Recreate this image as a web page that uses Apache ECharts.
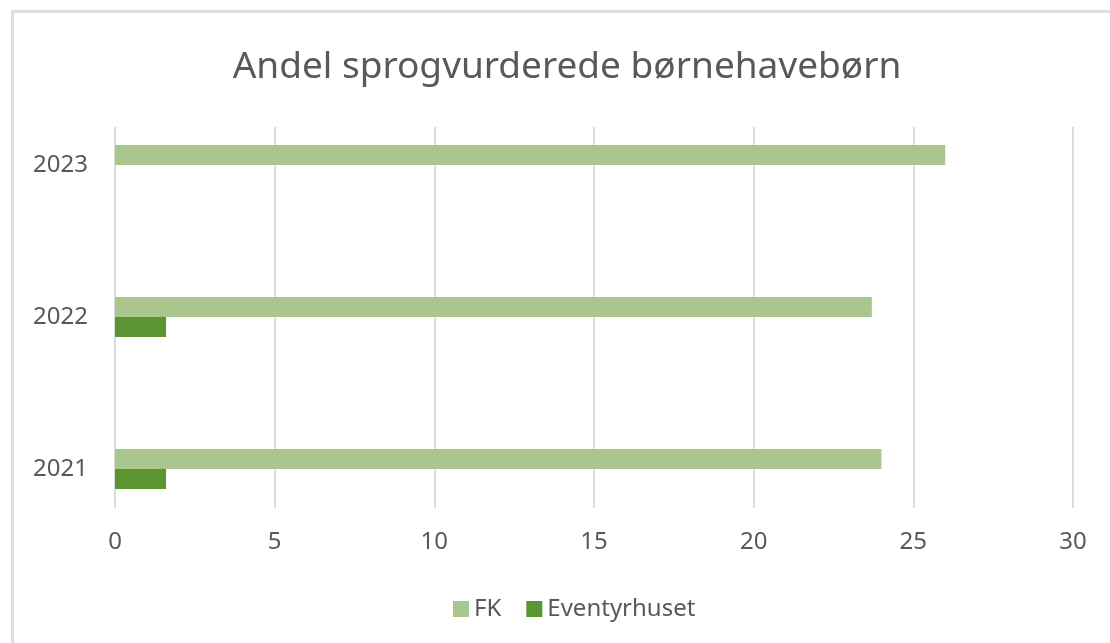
<!DOCTYPE html>
<html>
<head>
<meta charset="utf-8">
<script src="https://cdn.jsdelivr.net/npm/echarts@6/dist/echarts.min.js"></script>
<style>
html,body{margin:0;padding:0;background:#fff;}
#chart{width:1110px;height:643px;}
</style>
</head>
<body>
<div id="chart"></div>
<script>
const titleText = 'Andel sprogvurderede børnehavebørn';
const categories = ['2021', '2022', '2023'];
const seriesNames = ['FK', 'Eventyrhuset'];
const fkValues = [24, 23.7, 26];
const eventyrhusetValues = [1.6, 1.6, null];
const xMin = 0, xMax = 30, xStep = 5;

const textColor = '#595959';
const font = 'Noto Sans';

const chart = echarts.init(document.getElementById('chart'), null, {renderer: 'canvas'});
chart.setOption({
  animation: false,
  backgroundColor: '#ffffff',
  textStyle: {fontFamily: font, color: textColor},
  graphic: [{
    type: 'rect', silent: true,
    shape: {x: 12.5, y: 11.5, width: 1200, height: 800},
    style: {fill: 'none', stroke: '#dedede', lineWidth: 3}
  }],
  title: {
    text: titleText,
    left: 562, top: 44,
    textAlign: 'center',
    textStyle: {fontFamily: font, fontSize: 37, fontWeight: 'normal', color: textColor}
  },
  legend: {
    data: seriesNames,
    left: 448, top: 592,
    icon: 'rect', itemWidth: 16, itemHeight: 16, itemGap: 25,
    textStyle: {fontFamily: font, fontSize: 24, color: textColor, padding: [0, 0, 0, 0]}
  },
  grid: [
    {left: 115, right: 37, top: 89, bottom: 98, containLabel: false},
    {left: 115, right: 37, top: 127, bottom: 135, containLabel: false}
  ],
  xAxis: [
    {gridIndex: 0, type: 'value', min: xMin, max: xMax, interval: xStep, show: false},
    {gridIndex: 1, type: 'value', min: xMin, max: xMax, interval: xStep,
     axisLine: {show: false}, axisTick: {show: false},
     splitLine: {show: true, lineStyle: {color: '#dcdcdc', width: 2}},
     axisLabel: {margin: 22, fontFamily: font, fontSize: 24, color: textColor}}
  ],
  yAxis: [
    {gridIndex: 0, type: 'category', data: categories,
     axisLine: {show: false}, axisTick: {show: false},
     axisLabel: {margin: 27, fontFamily: font, fontSize: 24, color: textColor}},
    {gridIndex: 1, type: 'value', min: 0, max: 1, show: false}
  ],
  series: [
    {name: seriesNames[0], type: 'bar', xAxisIndex: 0, yAxisIndex: 0,
     data: fkValues, barWidth: 20, barGap: '0%',
     itemStyle: {color: '#A9C78C'}},
    {name: seriesNames[1], type: 'bar', xAxisIndex: 0, yAxisIndex: 0,
     data: eventyrhusetValues, barWidth: 20, barGap: '0%',
     itemStyle: {color: '#5A9532'}}
  ]
});
</script>
</body>
</html>
